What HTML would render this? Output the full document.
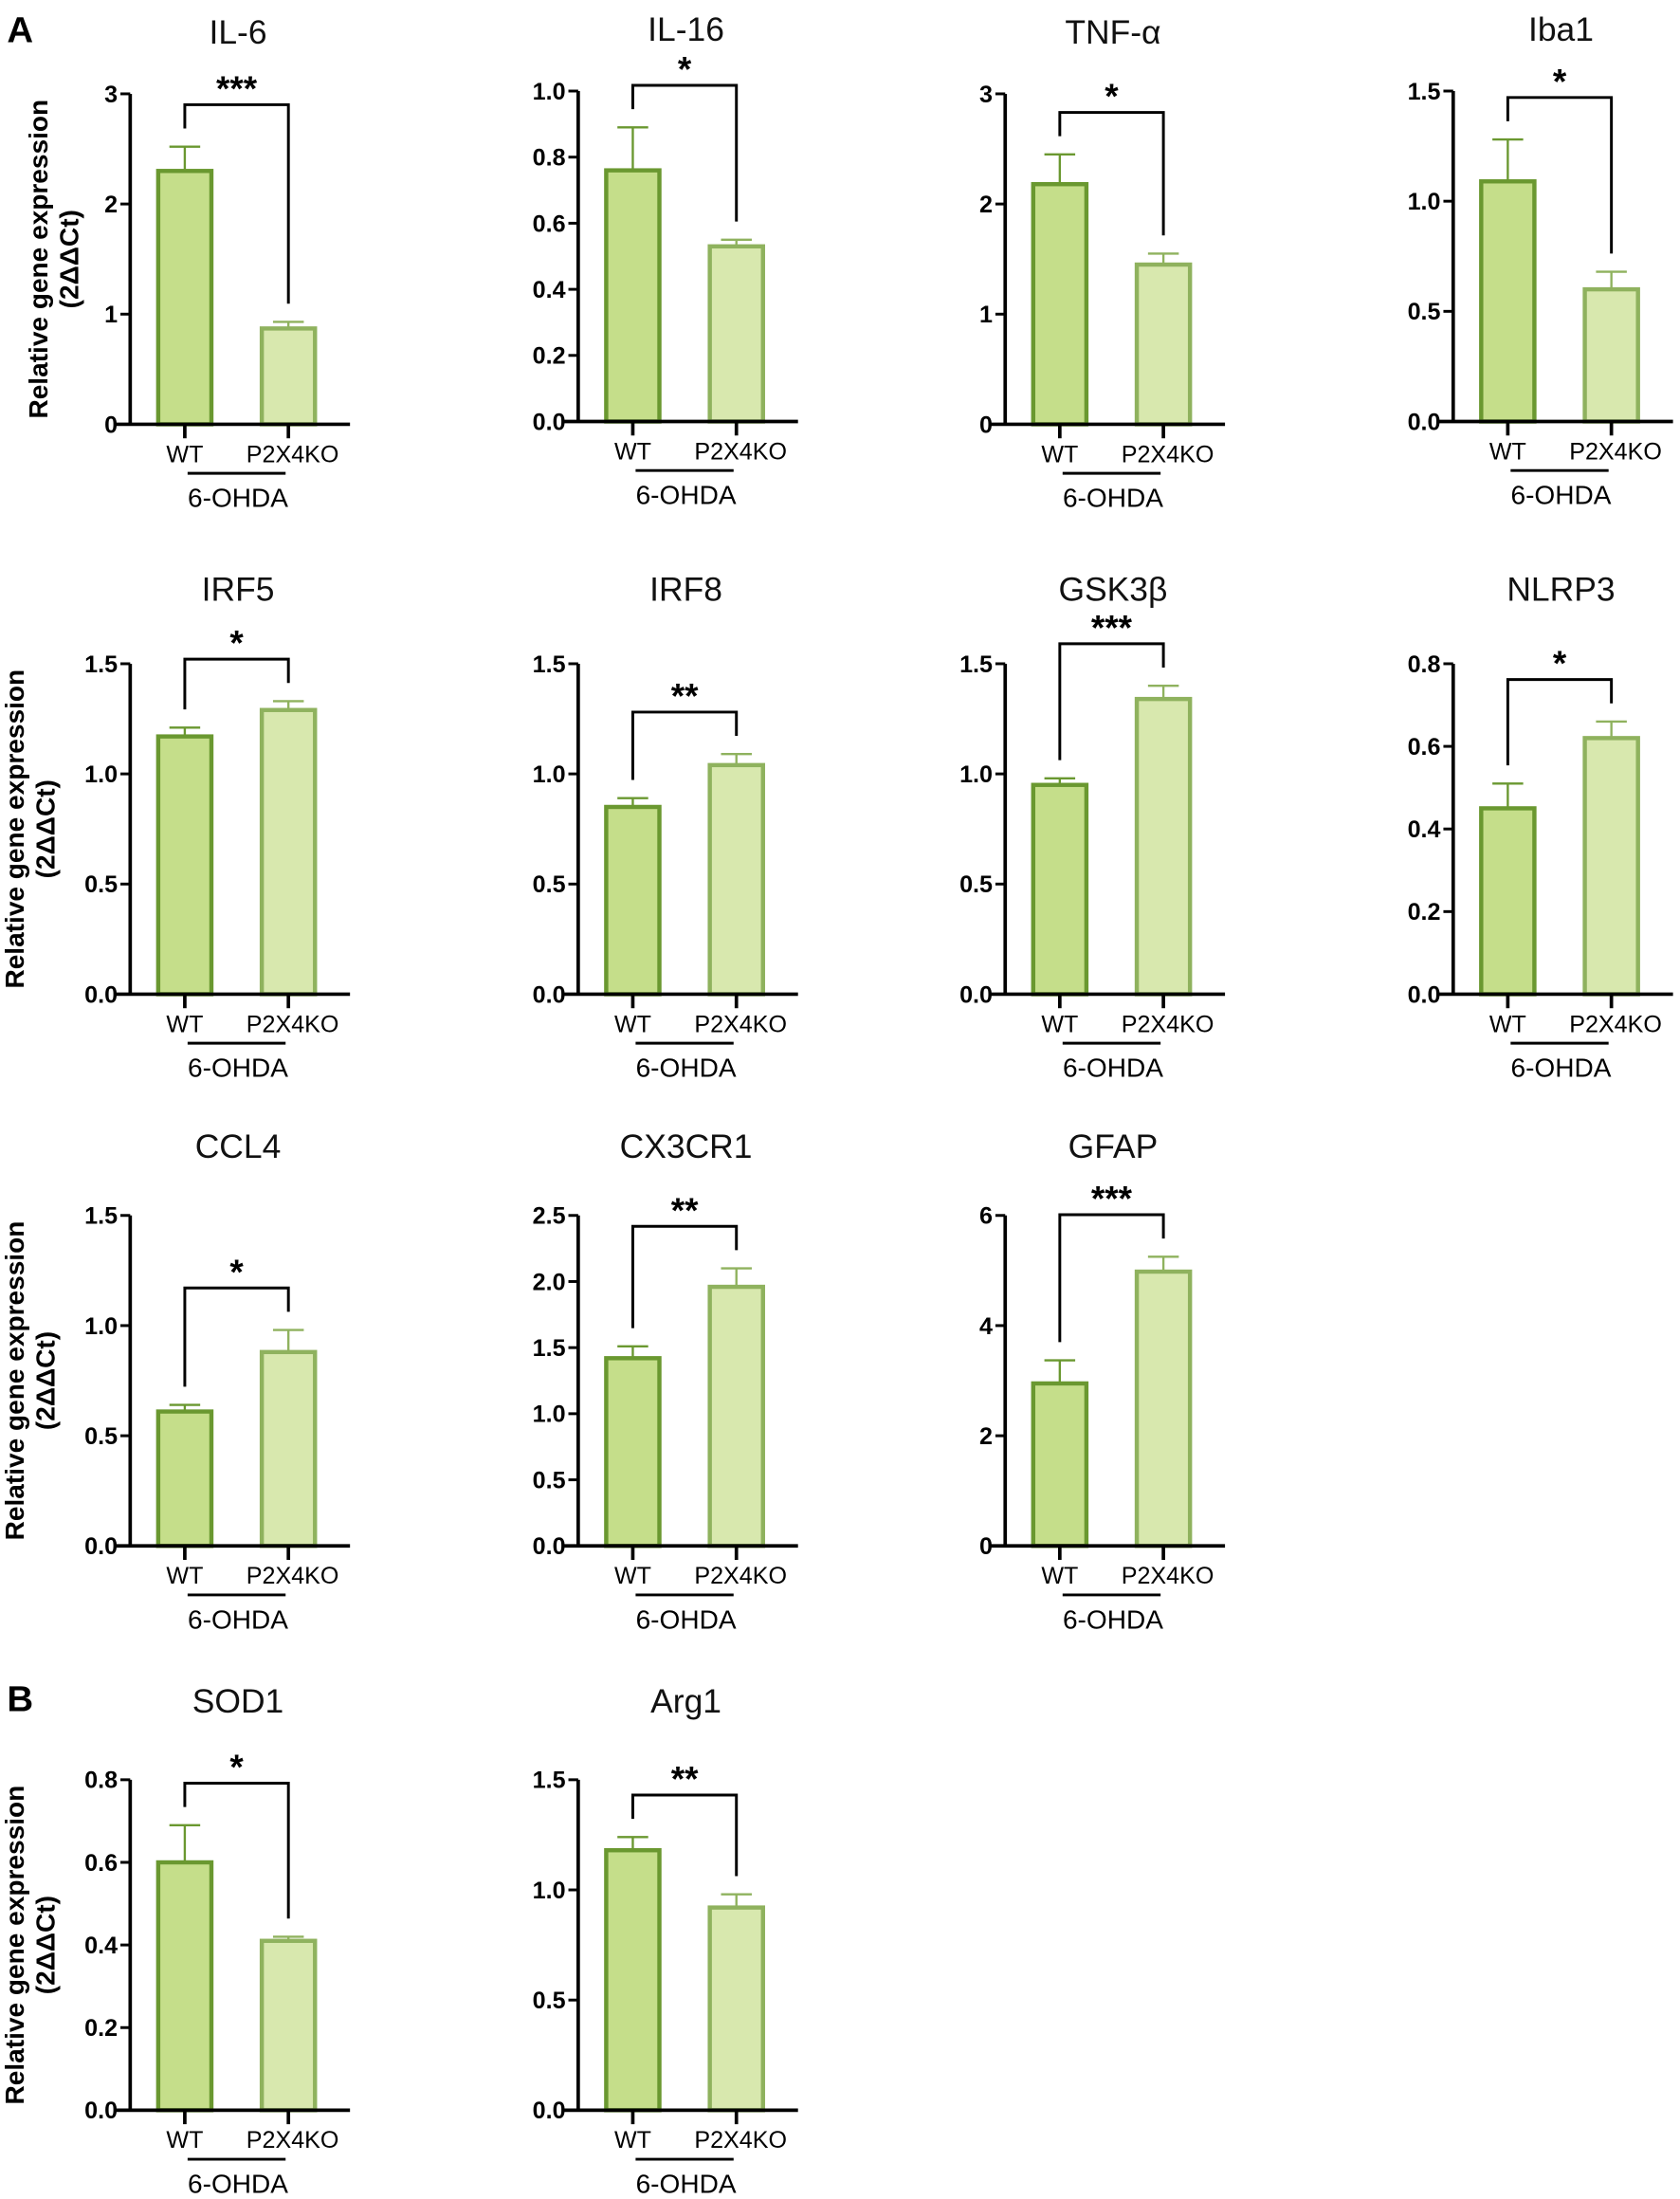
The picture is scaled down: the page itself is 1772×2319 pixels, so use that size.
<!DOCTYPE html>
<html><head><meta charset="utf-8"><style>
html,body{margin:0;padding:0;background:#fff}
svg{display:block}
text{font-family:"Liberation Sans",sans-serif}
</style></head><body>
<svg id="fig" xmlns="http://www.w3.org/2000/svg" width="1772" height="2319" viewBox="0 0 1200 1570.4">
<text x="5" y="30" font-size="26" font-weight="bold">A</text>
<text x="5" y="1222" font-size="26" font-weight="bold">B</text>
</svg>
<script>
const titles = ["IL-6","IL-16","TNF-α","Iba1","IRF5","IRF8","GSK3β","NLRP3","CCL4","CX3CR1","GFAP","SOD1","Arg1"];
const yMaxes = [3,1.0,3,1.5,1.5,1.5,1.5,0.8,1.5,2.5,6,0.8,1.5];
const ySteps = [1,0.2,1,0.5,0.5,0.5,0.5,0.2,0.5,0.5,2,0.2,0.5];
const wtMeans = [2.30,0.76,2.18,1.09,1.17,0.85,0.95,0.45,0.61,1.42,2.95,0.60,1.18];
const wtErrs = [2.52,0.89,2.45,1.28,1.21,0.89,0.98,0.51,0.64,1.51,3.37,0.69,1.24];
const koMeans = [0.87,0.53,1.45,0.60,1.29,1.04,1.34,0.62,0.88,1.96,4.98,0.41,0.92];
const koErrs = [0.93,0.55,1.55,0.68,1.33,1.09,1.40,0.66,0.98,2.10,5.25,0.42,0.98];
const stars = ["***","*","*","*","*","**","***","*","*","**","***","*","**"];
const groupLabels = ["WT","P2X4KO"];

const colX = [93,413,718,1038];
const rowTop = [67,474,868,1271];
const rowTitleY = [22,420,818,1214];
const panelTopAdj = [0,-2,0,-2,0,0,0,0,0,0,0,0,0];
const H = 236;
const NS = "http://www.w3.org/2000/svg";
const svg = document.getElementById('fig');
function mk(tag, attrs, parent){const e=document.createElementNS(NS,tag);for(const k in attrs)e.setAttribute(k,attrs[k]);(parent||svg).appendChild(e);return e;}

titles.forEach((t,i)=>{
  const col = i<11 ? i%4 : (i-11);
  const row = i<11 ? Math.floor(i/4) : 3;
  const ax = colX[col];
  const top = rowTop[row] + panelTopAdj[i];
  const bot = top + H;
  const ymax = yMaxes[i];
  const y = v => bot - v/ymax*H;
  const g = mk('g',{});
  
  
  const tt = mk('text',{x:ax+77,y:rowTitleY[row]+panelTopAdj[i]+9,'font-size':24,'text-anchor':'middle',fill:'#111'},g);
  tt.textContent = t;
  
  
  const centers=[ax+39, ax+113];
  const means=[wtMeans[i],koMeans[i]], errs=[wtErrs[i],koErrs[i]];
  const fills=['#c5de8a','#d8e8ae'], strokes=['#6a9830','#8fb25e'];
  for(let b=0;b<2;b++){
    const r = mk('rect',{x:centers[b]-19,y:y(means[b]),width:38,height:bot-y(means[b]),fill:fills[b],stroke:strokes[b],'stroke-width':3},g);
    
    
    const e = mk('path',{d:`M${centers[b]} ${y(means[b])}V${y(errs[b])}M${centers[b]-11} ${y(errs[b])}H${centers[b]+11}`,stroke:strokes[b],'stroke-width':1.6,fill:'none'},g);
    
    
  }
  const a = mk('path',{d:`M${ax} ${top}V${bot}M${ax-10} ${bot}H${ax+157}`,stroke:'#000','stroke-width':2.5,fill:'none'},g);
  
  
  const step = ySteps[i];
  const dec = step>=1?0:1;
  for(let v=0; v<=ymax+1e-9; v+=step){
    mk('line',{x1:ax-7,x2:ax,y1:y(v),y2:y(v),stroke:'#000','stroke-width':2},g);
    const tl = mk('text',{x:ax-9,y:y(v)+6,'font-size':17,'font-weight':'bold','text-anchor':'end'},g);
    tl.textContent = v.toFixed(dec);
    
    
  }
  for(let b=0;b<2;b++){
    mk('line',{x1:centers[b],x2:centers[b],y1:bot,y2:bot+10,stroke:'#000','stroke-width':2.5},g);
    const xl = mk('text',{x:centers[b]+(b?3:0),y:bot+27,'font-size':17,'text-anchor':'middle'},g);
    xl.textContent = groupLabels[b];
    
    
  }
  mk('line',{x1:ax+41,x2:ax+111,y1:bot+35,y2:bot+35,stroke:'#000','stroke-width':2},g);
  const oh = mk('text',{x:ax+77,y:bot+59,'font-size':19,'text-anchor':'middle'},g);
  oh.textContent = '6-OHDA';
  
  
  const by = Math.min(y(errs[0]),y(errs[1])) - 30;
  const br = mk('path',{d:`M${centers[0]} ${y(errs[0])-13}V${by}H${centers[1]}V${y(errs[1])-13}`,stroke:'#000','stroke-width':2,fill:'none'},g);
  
  
  const st = mk('text',{x:(centers[0]+centers[1])/2,y:by-3,'font-size':25,'font-weight':'bold','text-anchor':'middle'},g);
  st.textContent = stars[i];
  
  
  if(col===0){
    const cy = (top+bot)/2;
    const x1 = row===0?34:17, x2 = row===0?56:39;
    const y1 = mk('text',{x:x1,y:cy,'font-size':19,'font-weight':'bold','text-anchor':'middle',transform:`rotate(-90 ${x1} ${cy})`},g);
    y1.textContent = 'Relative gene expression';
    
    
    const y2 = mk('text',{x:x2,y:cy,'font-size':19,'font-weight':'bold','text-anchor':'middle',transform:`rotate(-90 ${x2} ${cy})`},g);
    y2.textContent = '(2ΔΔCt)';
    
    
  }
});
</script>
</body></html>
